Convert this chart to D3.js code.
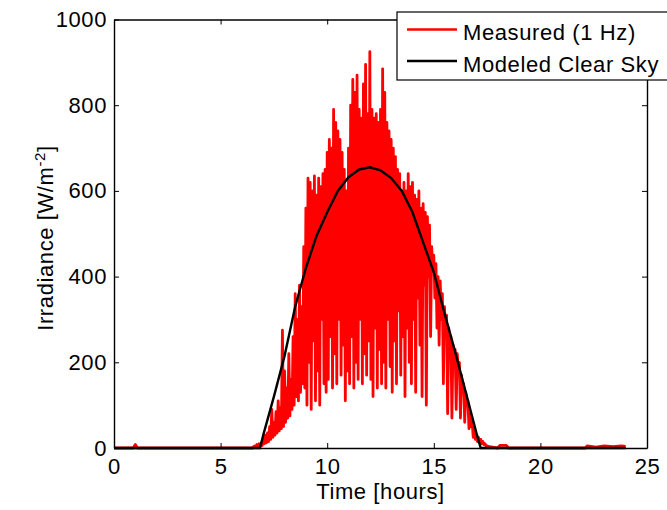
<!DOCTYPE html>
<html>
<head>
<meta charset="utf-8">
<script src="https://cdn.jsdelivr.net/npm/d3@7"></script>
<style>
  body { margin: 0; background: #fff; }
  svg { display: block; font-family: "Liberation Sans", Arial, sans-serif; }
</style>
</head>
<body>
<div id="chart"></div>
<script>
// measured irradiance, 1 Hz trace (peaks and dips)
const measuredTime = [
  0, 0.9, 1.0, 1.1,
  6.5, 6.55, 6.6, 6.65, 6.7, 6.75, 6.8, 6.85, 6.9, 6.95,
  7.0, 7.05, 7.1, 7.15, 7.2, 7.25, 7.3, 7.35, 7.4, 7.45, 7.5, 7.55, 7.6, 7.65, 7.7, 7.75, 7.8, 7.85, 7.9, 7.95,
  8.0, 8.05, 8.1, 8.15, 8.2, 8.25, 8.3, 8.35, 8.4, 8.45, 8.5, 8.55, 8.6, 8.65, 8.7, 8.75, 8.8, 8.85, 8.9, 8.95,
  9.0, 9.05, 9.1, 9.15, 9.2, 9.25, 9.3, 9.35, 9.4, 9.45, 9.5, 9.55, 9.6, 9.65, 9.7, 9.75, 9.8, 9.85, 9.9, 9.95,
  10.0, 10.05, 10.1, 10.15, 10.2, 10.25, 10.3, 10.35, 10.4, 10.45, 10.5, 10.55, 10.6, 10.65, 10.7, 10.75, 10.8, 10.85, 10.9, 10.95,
  11.0, 11.05, 11.1, 11.15, 11.2, 11.25, 11.3, 11.35, 11.4, 11.45, 11.5, 11.55, 11.6, 11.65, 11.7, 11.75, 11.8, 11.85, 11.9, 11.95,
  12.0, 12.05, 12.1, 12.15, 12.2, 12.25, 12.3, 12.35, 12.4, 12.45, 12.5, 12.55, 12.6, 12.65, 12.7, 12.75, 12.8, 12.85, 12.9, 12.95,
  13.0, 13.05, 13.1, 13.15, 13.2, 13.25, 13.3, 13.35, 13.4, 13.45, 13.5, 13.55, 13.6, 13.65, 13.7, 13.75, 13.8, 13.85, 13.9, 13.95,
  14.0, 14.05, 14.1, 14.15, 14.2, 14.25, 14.3, 14.35, 14.4, 14.45, 14.5, 14.55, 14.6, 14.65, 14.7, 14.75, 14.8, 14.85, 14.9, 14.95,
  15.0, 15.05, 15.1, 15.15, 15.2, 15.25, 15.3, 15.35, 15.4, 15.45, 15.5, 15.55, 15.6, 15.65, 15.7, 15.75, 15.8, 15.85, 15.9, 15.95,
  16.0, 16.05, 16.1, 16.15, 16.2, 16.25, 16.3, 16.35, 16.4, 16.45, 16.5, 16.55, 16.6, 16.65, 16.7, 16.75, 16.8, 16.85, 16.9, 16.95,
  17.0, 17.05, 17.1, 17.15, 17.2, 17.25, 17.3, 17.35, 17.4, 17.45, 17.5,
  17.6, 18.0, 18.1, 18.4, 18.5,
  22.1, 22.2, 22.6, 23.0, 23.4, 23.8, 24.0
];
const measuredValue = [
  0, 0, 8, 0,
  0, 3, 5, 2, 8, 4, 10, 5, 12, 6,
  20, 10, 30, 12, 35, 15, 50, 20, 90, 25, 60, 30, 85, 35, 110, 40, 95, 45, 275, 50,
  180, 60, 140, 70, 220, 75, 160, 90, 260, 100, 360, 120, 300, 110, 380, 130, 330, 150, 470, 140,
  560, 100, 630, 200, 620, 90, 600, 250, 635, 110, 590, 180, 630, 100, 610, 300, 640, 150, 650, 130,
  690, 160, 720, 260, 700, 140, 790, 220, 760, 150, 740, 300, 720, 170, 690, 240, 650, 110, 600, 180,
  700, 150, 800, 260, 860, 140, 830, 200, 870, 160, 790, 300, 770, 150, 850, 220, 895, 170, 780, 250,
  925, 160, 790, 120, 770, 280, 780, 140, 760, 230, 790, 150, 885, 200, 830, 140, 760, 300, 740, 190,
  720, 130, 700, 250, 680, 150, 650, 320, 640, 170, 600, 260, 620, 120, 600, 280, 640, 200, 610, 150,
  620, 300, 590, 130, 580, 350, 600, 240, 560, 120, 570, 380, 550, 100, 540, 400, 520, 260, 470, 420,
  450, 350, 430, 280, 400, 240, 390, 300, 360, 150, 330, 270, 310, 80, 280, 230, 260, 70, 240, 200,
  230, 90, 220, 180, 200, 70, 170, 130, 150, 60, 130, 100, 110, 45, 80, 50, 60, 25, 40, 20,
  30, 15, 25, 12, 20, 10, 15, 8, 10, 5, 5,
  3, 0, 6, 6, 0,
  0, 5, 2, 5, 3, 5, 4
];

// modeled clear-sky irradiance
const clearTime = [0, 6.85, 7.0, 7.5, 8.0, 8.5, 9.0, 9.5, 10.0, 10.5, 11.0, 11.5, 12.0,
  12.5, 13.0, 13.5, 14.0, 14.5, 15.0, 15.5, 16.0, 16.5, 17.0, 17.2, 24];
const clearValue = [0, 0, 30, 120, 215, 330, 420, 495, 550, 600, 632, 650, 655,
  648, 630, 600, 550, 480, 410, 315, 225, 130, 35, 0, 0];

const xTicks = [0, 5, 10, 15, 20, 25];
const yTicks = [0, 200, 400, 600, 800, 1000];
const seriesNames = ['Measured (1 Hz)', 'Modeled Clear Sky'];
const seriesColors = ['#ff0000', '#000000'];

const W = 667, H = 510;
const margin = {top: 19.5, right: 20, bottom: 62, left: 114};
const width = 647 - margin.left;
const height = 448 - margin.top;
const fontSize = 22;
const spacing = '0.6px';

const svg = d3.select('#chart').append('svg')
  .attr('width', W)
  .attr('height', H);

const g = svg.append('g')
  .attr('transform', 'translate(' + margin.left + ',' + margin.top + ')');

const x = d3.scaleLinear().domain([0, 25]).range([0, width]);
const y = d3.scaleLinear().domain([0, 1000]).range([height, 0]);

const measured = measuredTime.map((t, i) => [t, measuredValue[i]]);
const clear = clearTime.map((t, i) => [t, clearValue[i]]);

const line = d3.line()
  .x(d => x(d[0]))
  .y(d => y(d[1]));

g.append('path')
  .datum(measured)
  .attr('d', line)
  .attr('fill', 'none')
  .attr('stroke', seriesColors[0])
  .attr('stroke-width', 2.8)
  .attr('stroke-linejoin', 'round');

g.append('path')
  .datum(clear)
  .attr('d', line)
  .attr('fill', 'none')
  .attr('stroke', seriesColors[1])
  .attr('stroke-width', 2.4);

// axes, ticks pointing inward on all four sides
const xAxis = g.append('g')
  .attr('transform', 'translate(0,' + height + ')')
  .call(d3.axisBottom(x).tickValues(xTicks).tickSizeInner(-5).tickSizeOuter(0).tickPadding(10));
const xTop = g.append('g')
  .call(d3.axisTop(x).tickValues(xTicks).tickSizeInner(-5).tickSizeOuter(0).tickFormat(''));
const yAxis = g.append('g')
  .call(d3.axisLeft(y).tickValues(yTicks).tickFormat(d3.format('d'))
    .tickSizeInner(-5).tickSizeOuter(0).tickPadding(7));
const yRight = g.append('g')
  .attr('transform', 'translate(' + width + ',0)')
  .call(d3.axisRight(y).tickValues(yTicks).tickSizeInner(-5).tickSizeOuter(0).tickFormat(''));

[xAxis, xTop, yAxis, yRight].forEach(a => {
  a.select('.domain').attr('stroke', '#000').attr('stroke-width', 1.4);
  a.selectAll('.tick line').attr('stroke', '#000').attr('stroke-width', 1);
  a.selectAll('.tick text')
    .attr('fill', '#000')
    .style('font-size', fontSize + 'px')
    .style('letter-spacing', spacing)
    .style('font-family', '"Liberation Sans", Arial, sans-serif');
});

// axis titles
svg.append('text')
  .attr('x', margin.left + width / 2)
  .attr('y', 499)
  .attr('text-anchor', 'middle')
  .style('font-size', fontSize + 'px')
  .style('letter-spacing', spacing)
  .text('Time [hours]');

const yLabel = svg.append('text')
  .attr('transform', 'translate(53,238) rotate(-90)')
  .attr('text-anchor', 'middle')
  .style('font-size', fontSize + 'px')
  .style('letter-spacing', spacing);
yLabel.append('tspan').text('Irradiance [W/m');
yLabel.append('tspan').attr('dy', -8).style('font-size', '15px').text('-2');
yLabel.append('tspan').attr('dy', 8).text(']');

// legend
const legend = svg.append('g').attr('transform', 'translate(397,12)');
legend.append('rect')
  .attr('width', 290)
  .attr('height', 68)
  .attr('fill', '#fff')
  .attr('stroke', '#000')
  .attr('stroke-width', 1.2);

const rowY = [17.5, 49];
seriesNames.forEach((name, i) => {
  legend.append('line')
    .attr('x1', 10).attr('x2', 60)
    .attr('y1', rowY[i]).attr('y2', rowY[i])
    .attr('stroke', seriesColors[i])
    .attr('stroke-width', 2.4);
  legend.append('text')
    .attr('x', 66)
    .attr('y', rowY[i] + 10.5)
    .style('font-size', fontSize + 'px')
    .style('letter-spacing', spacing)
    .text(name);
});
</script>
</body>
</html>
